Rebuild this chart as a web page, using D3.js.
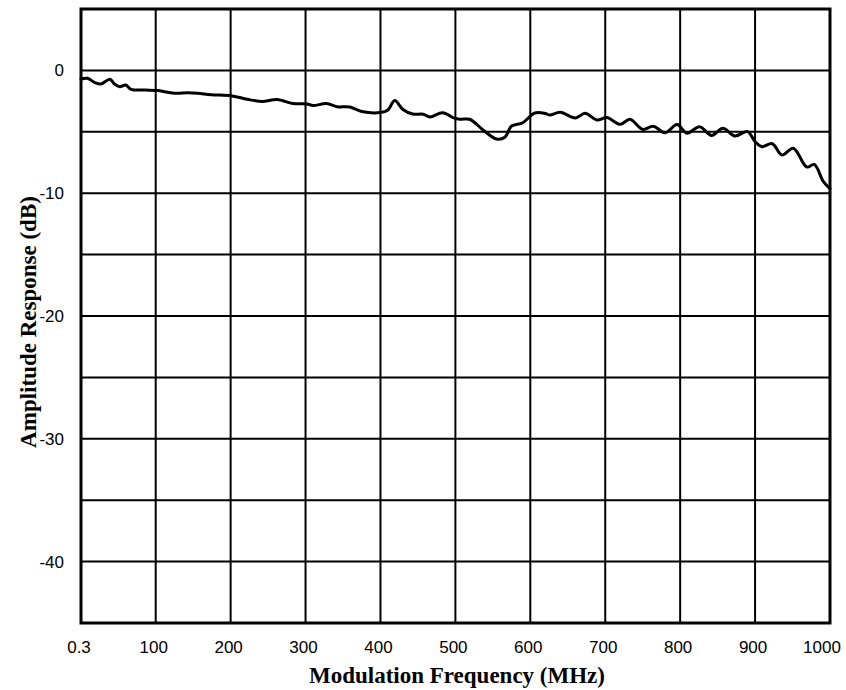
<!DOCTYPE html>
<html><head><meta charset="utf-8">
<script src="https://cdn.jsdelivr.net/npm/d3@7"></script>
<style>body{margin:0;background:#fff;}</style>
</head><body>
<svg id="c" width="846" height="690"></svg>
<script>
const freqMHz = [0.3,9,19,27,39,45,52,60,67,85,103,112,126,143,156,174,202,222,242,262,283,302,310,328,342,359,375,400,410,419,430,443,457,466,483,497,506,519,537,555,566,575,590,606,620,626,640,660,673,689,702,720,733,750,764,780,796,809,826,842,857,873,890,900,909,923,936,951,969,979,991,1000];
const ampDB = [-0.70,-0.64,-1.00,-1.11,-0.72,-1.11,-1.33,-1.19,-1.54,-1.60,-1.64,-1.73,-1.86,-1.82,-1.86,-1.98,-2.08,-2.35,-2.53,-2.37,-2.70,-2.74,-2.86,-2.70,-2.96,-2.98,-3.35,-3.43,-3.22,-2.45,-3.18,-3.55,-3.57,-3.79,-3.44,-3.84,-3.98,-3.98,-4.85,-5.59,-5.45,-4.53,-4.26,-3.47,-3.51,-3.63,-3.41,-3.88,-3.49,-4.04,-3.84,-4.39,-3.98,-4.81,-4.55,-5.07,-4.41,-5.12,-4.58,-5.30,-4.72,-5.34,-4.99,-5.81,-6.21,-5.97,-6.89,-6.34,-7.87,-7.66,-9.04,-9.63];
const xTickValues = [0.3,100,200,300,400,500,600,700,800,900,1000];
const xTickLabels = ["0.3","100","200","300","400","500","600","700","800","900","1000"];
const yGridValues = [0,-5,-10,-15,-20,-25,-30,-35,-40];
const yTickValues = [0,-10,-20,-30,-40];
const yTickLabels = ["0","-10","-20","-30","-40"];
const xTitle = "Modulation Frequency (MHz)";
const yTitle = "Amplitude Response (dB)";

const L=81, R=830, T=9, B=623;
const svg = d3.select("#c");
const x = d3.scaleLinear().domain([0.3,1000]).range([L,R]);
const y = d3.scaleLinear().domain([5,-45]).range([T,B]);

// grid
svg.append("g").selectAll("line").data(xTickValues.slice(1,-1)).join("line")
  .attr("x1",d=>x(d)).attr("x2",d=>x(d)).attr("y1",T).attr("y2",B)
  .attr("stroke","#000").attr("stroke-width",2);
svg.append("g").selectAll("line").data(yGridValues).join("line")
  .attr("x1",L).attr("x2",R).attr("y1",d=>y(d)).attr("y2",d=>y(d))
  .attr("stroke","#000").attr("stroke-width",2);
svg.append("rect").attr("x",L).attr("y",T).attr("width",R-L).attr("height",B-T)
  .attr("fill","none").attr("stroke","#000").attr("stroke-width",3);

// axes labels
const tickFont = "'Liberation Sans', Arial, sans-serif";
svg.append("g").selectAll("text").data(xTickValues).join("text")
  .attr("x",(d,i)=>x(d)-(i===xTickValues.length-1?8:2)).attr("y",653)
  .attr("text-anchor","middle").attr("font-family",tickFont).attr("font-size",17)
  .text((d,i)=>xTickLabels[i]);
svg.append("g").selectAll("text").data(yTickValues).join("text")
  .attr("x",64).attr("y",d=>y(d)).attr("dy","0.35em")
  .attr("text-anchor","end").attr("font-family",tickFont).attr("font-size",17)
  .text((d,i)=>yTickLabels[i]);

// titles
svg.append("text").attr("x",457).attr("y",683).attr("text-anchor","middle")
  .attr("font-family","'Liberation Serif','Times New Roman',serif").attr("font-weight","bold")
  .attr("font-size",23).text(xTitle);
svg.append("text").attr("transform","translate(36,322) rotate(-90)").attr("text-anchor","middle")
  .attr("font-family","'Liberation Serif','Times New Roman',serif").attr("font-weight","bold")
  .attr("font-size",23).text(yTitle);

// curve
const line = d3.line().x(d=>x(d[0])).y(d=>y(d[1])).curve(d3.curveCatmullRom.alpha(0.5));
svg.append("path").datum(freqMHz.map((f,i)=>[f,ampDB[i]]))
  .attr("d",line).attr("fill","none").attr("stroke","#000").attr("stroke-width",3)
  .attr("stroke-linejoin","round").attr("stroke-linecap","round");
</script>
</body></html>
